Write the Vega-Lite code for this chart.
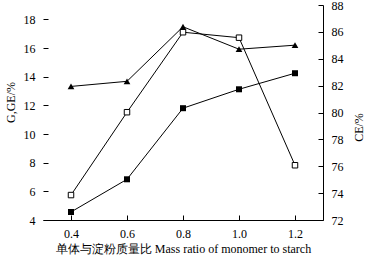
{
  "$schema": "https://vega.github.io/schema/vega-lite/v6.json",
  "width": 280,
  "height": 215,
  "autosize": "none",
  "padding": {"left": 43, "top": 5, "right": 45, "bottom": 42},
  "background": "white",
  "config": {
    "view": {"stroke": null},
    "axis": {
      "labelFont": "Liberation Serif",
      "titleFont": "Liberation Serif",
      "labelFontSize": 12,
      "titleFontSize": 12,
      "labelColor": "black",
      "titleColor": "black",
      "domainColor": "black",
      "tickColor": "black",
      "grid": false,
      "titleFontWeight": "normal",
      "tickSize": -5,
      "labelPadding": 13,
      "labelOverlap": false
    }
  },
  "data": {
    "values": [
      {"ratio": 0.4, "GE": 5.74, "G": 4.56, "CE": 81.94},
      {"ratio": 0.6, "GE": 11.52, "G": 6.84, "CE": 82.32},
      {"ratio": 0.8, "GE": 17.1, "G": 11.8, "CE": 86.38},
      {"ratio": 1.0, "GE": 16.72, "G": 13.12, "CE": 84.71},
      {"ratio": 1.2, "GE": 7.82, "G": 14.24, "CE": 85.01}
    ]
  },
  "encoding": {
    "x": {
      "field": "ratio",
      "type": "quantitative",
      "scale": {"domain": [0.3, 1.3], "nice": false, "zero": false},
      "axis": {
        "values": [0.4, 0.6, 0.8, 1.0, 1.2],
        "format": ".1f",
        "title": "单体与淀粉质量比 Mass ratio of monomer to starch",
        "titlePadding": 4
      }
    }
  },
  "layer": [
    {
      "encoding": {
        "y": {
          "type": "quantitative",
          "scale": {"domain": [4, 19], "nice": false, "zero": false},
          "axis": {
            "values": [4, 6, 8, 10, 12, 14, 16, 18],
            "labelOverlap": false,
            "domain": false,
            "title": "G,GE/%",
            "titleY": 97,
            "titlePadding": 6
          }
        }
      },
      "layer": [
        {
          "mark": {"type": "line", "color": "black", "strokeWidth": 1},
          "encoding": {"y": {"field": "GE"}}
        },
        {
          "mark": {"type": "point", "shape": "square", "filled": true, "fill": "white", "stroke": "black", "strokeWidth": 1, "size": 30, "opacity": 1},
          "encoding": {"y": {"field": "GE"}}
        },
        {
          "mark": {"type": "line", "color": "black", "strokeWidth": 1},
          "encoding": {"y": {"field": "G"}}
        },
        {
          "mark": {"type": "point", "shape": "square", "filled": true, "color": "black", "size": 36, "opacity": 1},
          "encoding": {"y": {"field": "G"}}
        },
        {
          "data": {"values": [{}]},
          "mark": {"type": "rule", "color": "black", "strokeWidth": 1},
          "encoding": {
            "x": {"datum": 0.3},
            "y": {"datum": 4},
            "y2": {"datum": 18}
          }
        }
      ]
    },
    {
      "encoding": {
        "y": {
          "field": "CE",
          "type": "quantitative",
          "scale": {"domain": [72, 88], "nice": false, "zero": false},
          "axis": {
            "orient": "right",
            "values": [72, 74, 76, 78, 80, 82, 84, 86, 88],
            "labelOverlap": false,
            "title": "CE/%",
            "titleAngle": -90,
            "titleY": 122,
            "titlePadding": 22
          }
        }
      },
      "layer": [
        {"mark": {"type": "line", "color": "black", "strokeWidth": 1}},
        {"mark": {"type": "point", "shape": "triangle-up", "filled": true, "color": "black", "size": 45, "opacity": 1}}
      ]
    }
  ],
  "resolve": {"scale": {"y": "independent"}}
}
